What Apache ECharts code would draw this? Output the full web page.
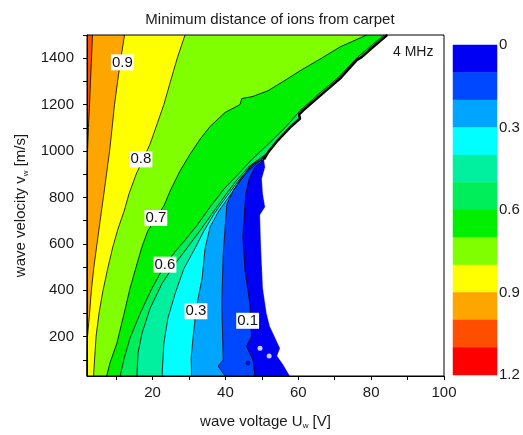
<!DOCTYPE html>
<html><head><meta charset="utf-8">
<script src="https://cdn.jsdelivr.net/npm/echarts@6/dist/echarts.min.js"></script>
<style>html,body{margin:0;padding:0;background:#fff}#c{width:523px;height:435px}</style>
</head><body><div id="c"></div>
<script>
// ---- axes ----
const xRange = [2, 100];
const yRange = [30, 1500];
const xLabelValues = [20, 40, 60, 80, 100];
const xTickValues = [10, 20, 30, 40, 50, 60, 70, 80, 90, 100];
const yLabelValues = [200, 400, 600, 800, 1000, 1200, 1400];
const yTickValues = [100, 200, 300, 400, 500, 600, 700, 800, 900, 1000, 1100, 1200, 1300, 1400, 1500];
// ---- colour scale ----
const levelTicks = [0, 0.3, 0.6, 0.9, 1.2];
const bandLevels = [0, 0.1, 0.2, 0.3, 0.4, 0.5, 0.6, 0.7, 0.8, 0.9, 1.0, 1.1];
const bandColors = ['#0000f5', '#0048ff', '#00a5ff', '#00ffff', '#00f0a0', '#00ee5a',
                    '#00f000', '#80ff00', '#ffff00', '#ffa500', '#ff4e00', '#ff0000'];
// ---- data domain right edge (x [V], v [m/s]) top -> bottom ----
const edge = [[84.4,1500],[80.2,1444],[77.5,1406],[76.1,1393],[71.7,1316],[67.3,1256],[63.8,1209],
  [61.3,1174],[60.2,1157],[60.5,1140],[57.7,1101],[54.4,1046],[51.7,994],[50.6,964],[50.9,930],
  [50.0,879],[50.3,814],[50.9,759],[49.5,724],[49.8,579],[50.3,407],[51.3,300],[52.2,244],
  [55.0,150],[54.2,116],[55.8,81],[57.7,30]];
// ---- contour lines (x at v), top -> bottom ----
const c10 = [[3.5,1500],[3.25,1401],[2.95,1299],[2.7,1200],[2.4,1101],[2.15,999],[2.0,900],[2.0,30]];
const c09 = [[12.3,1500],[11.3,1401],[10.4,1299],[9.55,1200],[8.9,1101],[8.2,999],[7.35,900],[6.5,801],
  [5.6,699],[4.75,600],[3.9,501],[3.2,399],[2.7,300],[2.15,201],[2.0,99],[2.0,30]];
const c08 = [[28.9,1500],[26.8,1401],[24.9,1299],[23.1,1200],[20.9,1101],[19.3,1029],[17.4,964],[15.5,900],
  [13.5,814],[12.2,741],[10.5,664],[9.1,587],[7.8,501],[6.4,399],[5.3,300],[4.5,201],[4.1,107],[3.8,30]];
const c07 = [[78.8,1500],[71.5,1449],[66.5,1401],[60.5,1346],[55.8,1299],[51.7,1260],[47.3,1234],[44.5,1226],
  [44.0,1200],[39.9,1166],[35.8,1106],[33.0,1050],[30.3,986],[27.5,913],[24.8,827],[23.1,763],[20.9,711],
  [18.7,656],[17.1,587],[15.5,501],[13.8,407],[12.2,300],[10.2,171],[8.3,86],[7.4,30]];
const c06 = [[83.5,1500],[76.4,1406],[70.9,1316],[66.0,1251],[60.5,1174],[56.4,1101],[51.7,1029],[47.3,964],
  [43.5,900],[39.6,836],[35.8,759],[32.5,686],[29.2,621],[26.2,566],[23.4,510],[19.8,407],[16.6,300],
  [13.8,193],[12.2,107],[11.1,30]];
const c05 = [[50.6,981],[46.2,930],[42.9,870],[39.6,801],[36.3,729],[33.0,656],[29.7,587],[26.2,514],
  [22.6,429],[19.3,321],[17.1,214],[16.0,129],[15.7,30]];
const c04 = [[50.6,977],[46.7,930],[43.5,870],[40.2,801],[36.9,729],[34.1,656],[31.6,579],[28.6,493],
  [26.2,386],[24.2,279],[23.1,171],[22.6,30]];
const c03 = [[50.6,973],[46.7,921],[44.0,870],[41.3,810],[38.0,737],[35.8,673],[34.4,579],[33.6,450],
  [32.5,364],[31.9,309],[31.1,193],[30.6,107],[30.7,30]];
const c02 = [[50.6,964],[47.3,943],[44.5,887],[42.1,827],[40.4,771],[39.4,557],[39.0,343],[39.4,99],
  [38.0,73],[39.9,30]];
const c01 = [[50.6,964],[48.1,930],[46.5,879],[45.6,814],[45.4,771],[44.8,630],[45.4,484],[46.7,343],
  [47.2,201],[45.8,159],[47.6,99],[48.1,30]];
// ---- contour labels ----
const contourLabels = [[11.7,1382,'0.9'],[16.8,964,'0.8'],[20.9,711,'0.7'],[23.4,510,'0.6'],[31.9,309,'0.3'],[46.1,268,'0.1']];
const holes = [[49.5,150],[52.0,116]];
const dots = [[46.2,86]];

// ---- build polygons (painter's order) ----
const contours = [c10, c09, c08, c07, c06, c05, c04, c03, c02, c01];
function fullPath(c) {
  const v0 = c[0][1];
  return edge.filter(p => p[1] > v0).concat(c);
}
const rightSide = [[xRange[1], yRange[0]], [xRange[1], yRange[1]]];
const polys = [{ pts: [[xRange[0], yRange[1]], [xRange[0], yRange[0]]].concat(rightSide), color: bandColors[10] }]
  .concat(contours.map((c, i) => ({ pts: fullPath(c).concat(rightSide), color: bandColors[9 - i] })))
  .concat([{ pts: edge.concat(rightSide), color: '#ffffff' }]);

const FONT = '"Liberation Sans", Arial, sans-serif';
const TXT = '#1a1a1a';

const series = [];
series.push({
  type: 'custom', xAxisIndex: 0, yAxisIndex: 0, z: 1, silent: true, clip: true,
  data: polys.map((p, i) => [xRange[0], yRange[0], i]),
  renderItem: (params, api) => {
    const p = polys[params.dataIndex];
    return { type: 'polygon', shape: { points: p.pts.map(q => api.coord(q)) },
      style: { fill: p.color, stroke: p.color, lineWidth: 0.3 } };
  }
});
contours.forEach(c => series.push({
  type: 'line', xAxisIndex: 0, yAxisIndex: 0, z: 3, silent: true, symbol: 'none', clip: true,
  data: fullPath(c), lineStyle: { color: '#000', width: 0.8 }
}));
series.push({
  type: 'line', xAxisIndex: 0, yAxisIndex: 0, z: 4, silent: true, symbol: 'none', clip: true,
  data: edge.filter(p => p[1] >= c01[0][1]), lineStyle: { color: '#000', width: 2.5 }
});
series.push({
  type: 'scatter', xAxisIndex: 0, yAxisIndex: 0, z: 4, silent: true, symbolSize: 5,
  data: holes, itemStyle: { color: '#fff' }
});
series.push({
  type: 'scatter', xAxisIndex: 0, yAxisIndex: 0, z: 4, silent: true, symbolSize: 4,
  data: dots, itemStyle: { color: bandColors[0], borderColor: '#000', borderWidth: 0.6 }
});
series.push({
  type: 'custom', xAxisIndex: 0, yAxisIndex: 0, z: 6, silent: true,
  data: contourLabels.map(d => [d[0], d[1]]),
  renderItem: (params, api) => {
    const d = contourLabels[params.dataIndex];
    const pt = api.coord([d[0], d[1]]);
    return { type: 'text', x: pt[0], y: pt[1],
      style: { text: d[2], fill: '#111', font: '15px ' + FONT, align: 'center', verticalAlign: 'middle',
        backgroundColor: '#fff', padding: [1, 1, 0, 1] } };
  }
});
// colour bar
series.push({
  type: 'custom', xAxisIndex: 1, yAxisIndex: 1, z: 2, silent: true,
  data: bandLevels.map(l => [0, l]),
  renderItem: (params, api) => {
    const l = bandLevels[params.dataIndex];
    const a = api.coord([0, l]), b = api.coord([1, l + 0.1]);
    return { type: 'rect', shape: { x: a[0], y: Math.min(a[1], b[1]), width: b[0] - a[0], height: Math.abs(b[1] - a[1]) },
      style: { fill: bandColors[params.dataIndex], stroke: bandColors[params.dataIndex], lineWidth: 0.5 } };
  }
});

const chart = echarts.init(document.getElementById('c'), null, { renderer: 'canvas' });
chart.setOption({
  animation: false,
  backgroundColor: '#fff',
  textStyle: { fontFamily: FONT },
  grid: [
    { left: 87, top: 35, width: 357, height: 343, show: true, borderColor: '#000', borderWidth: 1, z: 10, backgroundColor: 'transparent' },
    { left: 453, top: 45, width: 44, height: 330 }
  ],
  xAxis: [
    { type: 'value', gridIndex: 0, min: xRange[0], max: xRange[1], z: 10,
      axisLine: { show: true, lineStyle: { color: '#000', width: 1 } },
      axisTick: { show: true, customValues: xTickValues, length: 4, lineStyle: { color: '#000' } },
      axisLabel: { customValues: xLabelValues, fontSize: 15, color: TXT, margin: 9, fontFamily: FONT,
        formatter: v => String(v) },
      splitLine: { show: false },
      name: 'wave voltage U{sub|w} [V]', nameLocation: 'middle', nameGap: 37,
      nameTextStyle: { fontSize: 15, color: TXT, fontFamily: FONT,
        rich: { sub: { fontSize: 8, color: TXT, padding: [9, 0, 0, 0], fontFamily: FONT } } } },
    { type: 'value', gridIndex: 1, min: 0, max: 1, show: false }
  ],
  yAxis: [
    { type: 'value', gridIndex: 0, min: yRange[0], max: yRange[1], z: 10,
      axisLine: { show: true, lineStyle: { color: '#000', width: 1 } },
      axisTick: { show: true, customValues: yTickValues, length: 4, lineStyle: { color: '#000' } },
      axisLabel: { customValues: yLabelValues, fontSize: 15, color: TXT, margin: 13, fontFamily: FONT,
        formatter: v => String(v) },
      splitLine: { show: false },
      name: 'wave velocity v{sub|w} [m/s]', nameLocation: 'middle', nameGap: 47,
      nameTextStyle: { fontSize: 15, color: TXT, fontFamily: FONT,
        rich: { sub: { fontSize: 8, color: TXT, padding: [9, 0, 0, 0], fontFamily: FONT } } } },
    { type: 'value', gridIndex: 1, min: 0, max: 1.2, inverse: true, position: 'right',
      axisLine: { show: false }, axisTick: { show: false }, splitLine: { show: false },
      axisLabel: { customValues: levelTicks, fontSize: 15, color: TXT, margin: 2, fontFamily: FONT,
        formatter: v => String(Math.round(v * 10) / 10) } }
  ],
  graphic: [
    { type: 'text', x: 270, y: 20, z: 100,
      style: { text: 'Minimum distance of ions from carpet', fill: TXT, font: '15px ' + FONT, align: 'center', verticalAlign: 'middle' } },
    { type: 'text', x: 393, y: 52, z: 100,
      style: { text: '4 MHz', fill: TXT, font: '14px ' + FONT, align: 'left', verticalAlign: 'middle' } }
  ],
  series: series
});
</script></body></html>
